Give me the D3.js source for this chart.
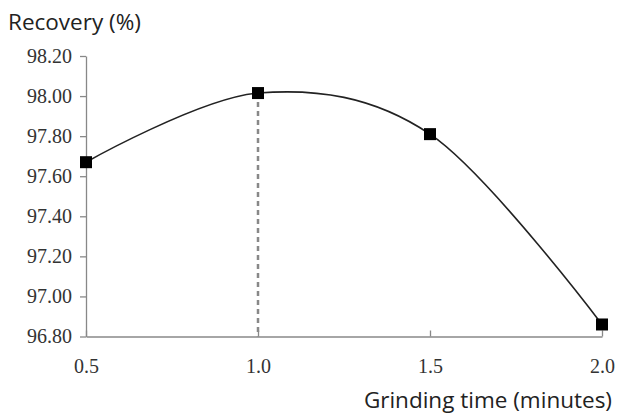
<!DOCTYPE html>
<html>
<head>
<meta charset="utf-8">
<script src="https://cdn.jsdelivr.net/npm/d3@7"></script>
<style>
  body { margin: 0; background: #fff; }
  .axis path, .axis line { stroke: #888; stroke-width: 1.3; }
  .title { font-family: "Open Sans", sans-serif; font-size: 22.5px; fill: #222; }
</style>
</head>
<body>
<svg id="chart" width="617" height="417"></svg>
<script>
const grindTime = [0.5, 1.0, 1.5, 2.0];
const recovery = [97.67, 98.015, 97.81, 96.86];
const xTicks = [0.5, 1.0, 1.5, 2.0];
const yTicks = [96.8, 97.0, 97.2, 97.4, 97.6, 97.8, 98.0, 98.2];
const peakTime = 1.0;

const svg = d3.select("#chart");

const x = d3.scaleLinear().domain([0.5, 2.0]).range([86, 602]);
const y = d3.scaleLinear().domain([96.8, 98.2]).range([336.5, 56]);

function styleTicks(g) {
  g.attr("font-family", "Liberation Serif, serif")
    .attr("font-size", 20);
  g.selectAll(".tick text").attr("fill", "#333");
}

// y axis
svg.append("g")
  .attr("class", "axis")
  .attr("transform", `translate(${x(0.5)},0)`)
  .call(d3.axisLeft(y).tickValues(yTicks).tickFormat(d3.format(".2f"))
    .tickSizeInner(6).tickSizeOuter(0).tickPadding(8))
  .call(styleTicks);

// x axis, ticks pointing up
svg.append("g")
  .attr("class", "axis")
  .attr("transform", `translate(0,${y(96.8)})`)
  .call(d3.axisBottom(x).tickValues(xTicks).tickFormat(d3.format(".1f"))
    .tickSizeInner(-6).tickSizeOuter(0).tickPadding(22))
  .call(styleTicks);

// dashed drop line at the maximum
const pi = grindTime.indexOf(peakTime);
svg.append("line")
  .attr("x1", x(peakTime)).attr("x2", x(peakTime))
  .attr("y1", y(recovery[pi])).attr("y2", y(96.8))
  .attr("stroke", "#888")
  .attr("stroke-width", 2.5)
  .attr("stroke-dasharray", "5,4");

const data = grindTime.map((t, i) => [t, recovery[i]]);

const line = d3.line()
  .x(d => x(d[0]))
  .y(d => y(d[1]))
  .curve(d3.curveCardinal.tension(0));

svg.append("path")
  .datum(data)
  .attr("fill", "none")
  .attr("stroke", "#222")
  .attr("stroke-width", 1.6)
  .attr("d", line);

const s = 12;
svg.selectAll("rect.pt")
  .data(data)
  .join("rect")
  .attr("class", "pt")
  .attr("x", d => x(d[0]) - s / 2)
  .attr("y", d => y(d[1]) - s / 2)
  .attr("width", s)
  .attr("height", s)
  .attr("fill", "#000");

// axis titles
svg.append("text")
  .attr("class", "title")
  .attr("x", 8)
  .attr("y", 30)
  .text("Recovery (%)");

svg.append("text")
  .attr("class", "title")
  .attr("x", 612)
  .attr("y", 408)
  .attr("text-anchor", "end")
  .text("Grinding time (minutes)");
</script>
</body>
</html>
